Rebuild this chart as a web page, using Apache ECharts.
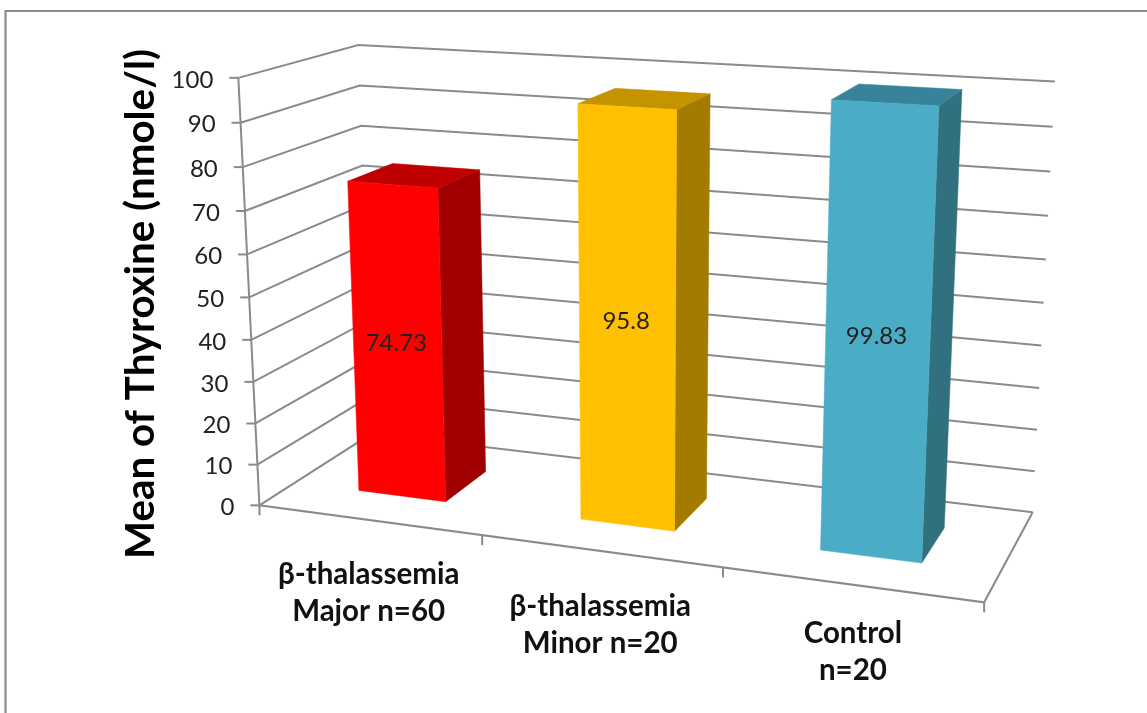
<!DOCTYPE html>
<html>
<head>
<meta charset="utf-8">
<title>Mean of Thyroxine</title>
<style>
  html, body { margin: 0; padding: 0; background: #fff; }
  #chart { width: 1147px; height: 713px; }
</style>
<script src="https://cdn.jsdelivr.net/npm/echarts@6/dist/echarts.min.js"></script>
</head>
<body>
<div id="chart"></div>
<script>
const categories = ["β-thalassemia\nMajor n=60", "β-thalassemia\nMinor n=20", "Control\nn=20"];
const values = [74.73, 95.8, 99.83];
const yTicks = [0, 10, 20, 30, 40, 50, 60, 70, 80, 90, 100];
const axisTitle = "Mean of Thyroxine (nmole/l)";

const frontColors = ["#FF0000", "#FFC000", "#4BACC6"];
const topColors = ["#C00000", "#C49400", "#38829A"];
const sideColors = ["#A00000", "#A37B00", "#31707F"];

const lineColor = "#8A8A8A";
const fontName = "Lato, 'Open Sans', sans-serif";

// camera: box corners (u, v, w) -> where they land on the page
const cameraPoints = [
  [0, 0, 0, 259.3, 505.3],
  [0, 1, 0, 238.3, 77.7],
  [0, 1, 1, 358.3, 45.3],
  [0, 0, 1, 371.5, 433],
  [1, 1, 1, 1055, 81.3],
  [1, 0, 1, 1032.7, 512.7],
  [1, 0, 0, 984, 601],
  [1 / 3, 0, 0, 482.5, 535],
  [2 / 3, 0, 0, 723, 569]
];

const barWidth = 0.4; // share of the category band
const barFront = 0.3;
const barBack = 0.7;

// the labels under the floor do not sit quite the same under each bar
const catNudge = [[0, -1], [0, 0], [2, -7]];

const solveCamera = (points) => {
  const n = 11;
  const a = [];
  for (let i = 0; i < n; i++) a.push(new Array(n + 1).fill(0));
  const addRow = (row, rhs) => {
    for (let i = 0; i < n; i++) {
      for (let j = 0; j < n; j++) a[i][j] += row[i] * row[j];
      a[i][n] += row[i] * rhs;
    }
  };
  points.forEach(([u, v, w, px, py]) => {
    const x = px / 1000;
    const y = py / 1000;
    addRow([u, v, w, 1, 0, 0, 0, 0, -x * u, -x * v, -x * w], x);
    addRow([0, 0, 0, 0, u, v, w, 1, -y * u, -y * v, -y * w], y);
  });
  for (let c = 0; c < n; c++) {
    let best = c;
    for (let r = c + 1; r < n; r++) if (Math.abs(a[r][c]) > Math.abs(a[best][c])) best = r;
    [a[c], a[best]] = [a[best], a[c]];
    for (let r = 0; r < n; r++) {
      if (r === c) continue;
      const f = a[r][c] / a[c][c];
      for (let k = c; k <= n; k++) a[r][k] -= f * a[c][k];
    }
  }
  return a.map((row, i) => row[n] / row[i]);
};

const cam = solveCamera(cameraPoints);

const project = (u, v, w) => {
  const d = cam[8] * u + cam[9] * v + cam[10] * w + 1;
  return [
    1000 * (cam[0] * u + cam[1] * v + cam[2] * w + cam[3]) / d,
    1000 * (cam[4] * u + cam[5] * v + cam[6] * w + cam[7]) / d
  ];
};

const lineEl = (points, width) => ({
  type: "polyline",
  shape: { points: points },
  style: { stroke: lineColor, lineWidth: width || 2, fill: null }
});

const renderTick = (params, api) => {
  const box = params.coordSys;
  const tick = api.value(0);
  const v = 1 - (api.coord([0, tick])[1] - box.y) / box.height;
  const front = project(0, v, 0);
  const children = [
    lineEl([front, project(0, v, 1), project(1, v, 1)]),
    lineEl([[front[0] - 9, front[1]], front]),
    {
      type: "text",
      style: {
        text: String(tick),
        x: front[0] - 25,
        y: front[1] + 2,
        align: "right",
        verticalAlign: "middle",
        fill: "#222",
        font: "24px " + fontName
      }
    }
  ];
  return { type: "group", children: children };
};

const renderFloor = (params, api) => {
  const children = [
    lineEl([project(0, 1, 0), project(0, 0, 0), project(1, 0, 0), project(1, 0, 1)])
  ];
  for (let i = 0; i <= categories.length; i++) {
    const p = project(i / categories.length, 0, 0);
    children.push(lineEl([p, [p[0], p[1] + 10]]));
  }
  return { type: "group", children: children };
};

const poly = (points, fill) => ({
  type: "polygon",
  shape: { points: points },
  style: { fill: fill, stroke: fill, lineWidth: 0.5 }
});

const renderBar = (params, api) => {
  const box = params.coordSys;
  const i = api.value(0);
  const value = api.value(1);
  const band = api.size([1, 0])[0];
  const mid = api.coord([i, 0])[0];
  const u0 = (mid - band * barWidth / 2 - box.x) / box.width;
  const u1 = (mid + band * barWidth / 2 - box.x) / box.width;
  const uMid = (mid - box.x) / box.width;
  const top = 1 - (api.coord([i, value])[1] - box.y) / box.height;

  const front = [project(u0, 0, barFront), project(u1, 0, barFront), project(u1, top, barFront), project(u0, top, barFront)];
  const side = [project(u1, 0, barFront), project(u1, 0, barBack), project(u1, top, barBack), project(u1, top, barFront)];
  const lid = [project(u0, top, barFront), project(u1, top, barFront), project(u1, top, barBack), project(u0, top, barBack)];
  const labelPos = project(uMid, top / 2, barFront);
  const catPos = project(uMid, 0, 0);

  return {
    type: "group",
    children: [
      poly(side, sideColors[i]),
      poly(lid, topColors[i]),
      poly(front, frontColors[i]),
      {
        type: "text",
        style: {
          text: String(value),
          x: labelPos[0] - 1,
          y: labelPos[1],
          align: "center",
          verticalAlign: "middle",
          fill: "#222",
          font: "24px " + fontName
        }
      },
      {
        type: "text",
        style: {
          text: categories[i],
          x: catPos[0] + catNudge[i][0],
          y: catPos[1] + 37 + catNudge[i][1],
          align: "center",
          verticalAlign: "top",
          fill: "#111",
          font: "bold 29.5px " + fontName,
          lineHeight: 37
        }
      }
    ]
  };
};

const chart = echarts.init(document.getElementById("chart"));

chart.setOption({
  animation: false,
  backgroundColor: "#fff",
  grid: { left: 0, right: 0, top: 0, bottom: 0 },
  xAxis: { type: "category", data: categories, show: false },
  yAxis: { type: "value", min: 0, max: 100, interval: 10, show: false },
  graphic: [
    {
      type: "polyline",
      shape: { points: [[5.5, 713], [5.5, 11], [1147, 11]] },
      style: { stroke: "#8C8C8C", lineWidth: 2.2, fill: null }
    },
    {
      type: "text",
      x: 141,
      y: 304,
      rotation: Math.PI / 2,
      style: {
        text: axisTitle,
        align: "center",
        verticalAlign: "middle",
        fill: "#000",
        font: "bold 40.3px " + fontName
      }
    }
  ],
  series: [
    {
      type: "custom",
      name: "ticks",
      coordinateSystem: "cartesian2d",
      renderItem: renderTick,
      encode: { y: 0 },
      data: yTicks.map((t) => [t]),
      silent: true,
      z: 1
    },
    {
      type: "custom",
      name: "floor",
      coordinateSystem: "cartesian2d",
      renderItem: renderFloor,
      data: [[0]],
      silent: true,
      z: 2
    },
    {
      type: "custom",
      name: "Mean of Thyroxine",
      coordinateSystem: "cartesian2d",
      renderItem: renderBar,
      encode: { x: 0, y: 1 },
      data: values.map((v, i) => [i, v]),
      z: 3
    }
  ]
});
</script>
</body>
</html>
